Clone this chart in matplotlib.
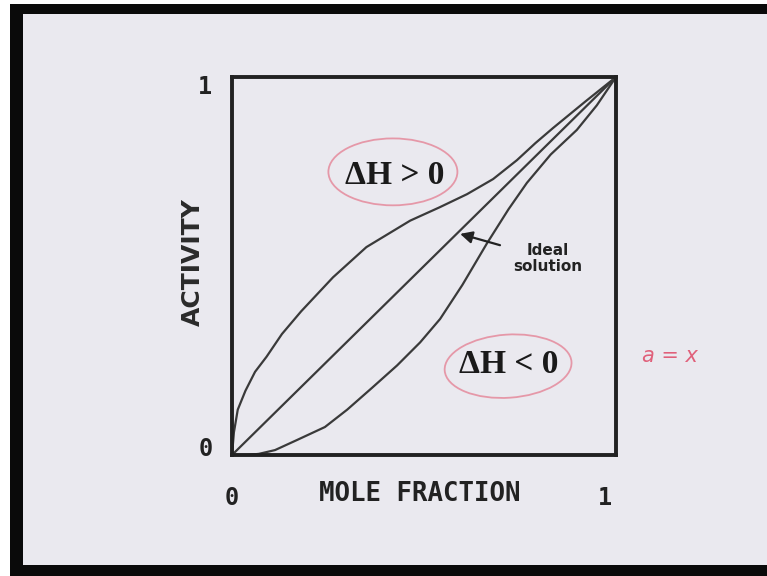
import numpy as np
import matplotlib
matplotlib.use('Agg')
import matplotlib.pyplot as plt
from matplotlib.patches import Ellipse, Rectangle
from matplotlib.transforms import ScaledTranslation

# Activity vs mole fraction
x_pos = [0, 0.005, 0.015, 0.035, 0.06, 0.09, 0.13, 0.18, 0.263, 0.35, 0.464, 0.54, 0.612, 0.68, 0.742, 0.79, 0.836, 0.92, 1.0]
a_pos = [0, 0.06, 0.12, 0.17, 0.22, 0.26, 0.32, 0.38, 0.47, 0.55, 0.62, 0.655, 0.69, 0.73, 0.78, 0.825, 0.865, 0.935, 1.0]

x_neg = [0, 0.04, 0.07, 0.112, 0.17, 0.242, 0.30, 0.365, 0.43, 0.49, 0.542, 0.60, 0.664, 0.72, 0.768, 0.83, 0.898, 0.95, 1.0]
a_neg = [0, 0.0, 0.003, 0.013, 0.04, 0.074, 0.12, 0.178, 0.237, 0.298, 0.36, 0.45, 0.56, 0.65, 0.72, 0.795, 0.86, 0.925, 1.0]

x_ideal = [0, 1]
a_ideal = [0, 1]

tick_vals = [0, 1]
tick_text = ['0', '1']

W, H = 767, 576
fig = plt.figure(figsize=(W / 100, H / 100), dpi=100)
fig.patch.set_facecolor('white')

# dark frame and grey slide background
fig.patches.append(Rectangle((10 / W, 0), 1, (H - 4) / H, transform=fig.transFigure,
                             facecolor='#0a0a0a', edgecolor='none', zorder=-2))
fig.patches.append(Rectangle((23 / W, 11 / H), 1, (565 - 14) / H, transform=fig.transFigure,
                             facecolor='#eae9ef', edgecolor='none', zorder=-1))

ax = fig.add_axes([232 / W, (H - 455) / H, 384 / W, 378 / H])
ax.set_facecolor('#eae9ef')
ax.set_xlim(0, 1)
ax.set_ylim(0, 1)

line_kw = dict(color='#3a3a3a', lw=1.6, solid_capstyle='round', solid_joinstyle='round')
ax.plot(x_pos, a_pos, **line_kw)
ax.plot(x_neg, a_neg, **line_kw)
ax.plot(x_ideal, a_ideal, **line_kw)

for s in ax.spines.values():
    s.set_linewidth(2.8)
    s.set_color('#222222')

mono = dict(family='DejaVu Sans Mono', weight='bold')
ax.set_xticks(tick_vals)
ax.set_xticklabels(tick_text, fontsize=17, **mono)
ax.set_yticks(tick_vals)
ax.set_yticklabels(tick_text, fontsize=17, **mono)
ax.tick_params(length=0, colors='#222222')
ax.tick_params(axis='x', pad=22)
ax.tick_params(axis='y', pad=14)
# nudge the end labels inward a little
xl = ax.get_xticklabels()
xl[1].set_transform(xl[1].get_transform() + ScaledTranslation(-0.11, 0, fig.dpi_scale_trans))
yl = ax.get_yticklabels()
yl[0].set_transform(yl[0].get_transform() + ScaledTranslation(0, 0.08, fig.dpi_scale_trans))
yl[1].set_transform(yl[1].get_transform() + ScaledTranslation(0, -0.08, fig.dpi_scale_trans))

ax.set_xlabel('MOLE FRACTION', fontsize=18.5, color='#222222', **mono)
ax.xaxis.set_label_coords((420 - 232) / 384, (455 - 494) / 378)
ax.xaxis.label.set_va('center')

ax.set_ylabel('ACTIVITY', fontsize=18, weight='bold', color='#2a2a2a')
ax.yaxis.set_label_coords((193 - 232) / 384, (455 - 262) / 378)
ax.yaxis.label.set_va('center')

# region labels
serif = dict(family='Liberation Serif', weight='bold', fontsize=24, color='#1a1a1a')
ax.text(0.424, 0.74, 'ΔH > 0', ha='center', va='center', **serif)
ax.text(0.72, 0.24, 'ΔH < 0', ha='center', va='center', **serif)

# handwritten circles
ink = '#e58a9c'
ax.add_patch(Ellipse((0.419, 0.749), 0.336, 0.177, fill=False, ec=ink, lw=1.3, alpha=0.85))
ax.add_patch(Ellipse((0.719, 0.235), 0.331, 0.167, angle=4, fill=False, ec=ink, lw=1.3, alpha=0.85))

ax.annotate('Ideal\nsolution', xy=(0.594, 0.585), xytext=(0.823, 0.519),
            ha='center', va='center', fontsize=11, weight='bold', color='#222222',
            linespacing=1.1,
            arrowprops=dict(arrowstyle='-|>', color='#222222', lw=1.6,
                            mutation_scale=18, shrinkA=8, shrinkB=0))

ax.text((670 - 232) / 384, (455 - 356) / 378, 'a = x', ha='center', va='center',
        fontsize=15, style='italic', color='#e0607a', clip_on=False)

fig.savefig('out.png', dpi=100, facecolor=fig.get_facecolor())
